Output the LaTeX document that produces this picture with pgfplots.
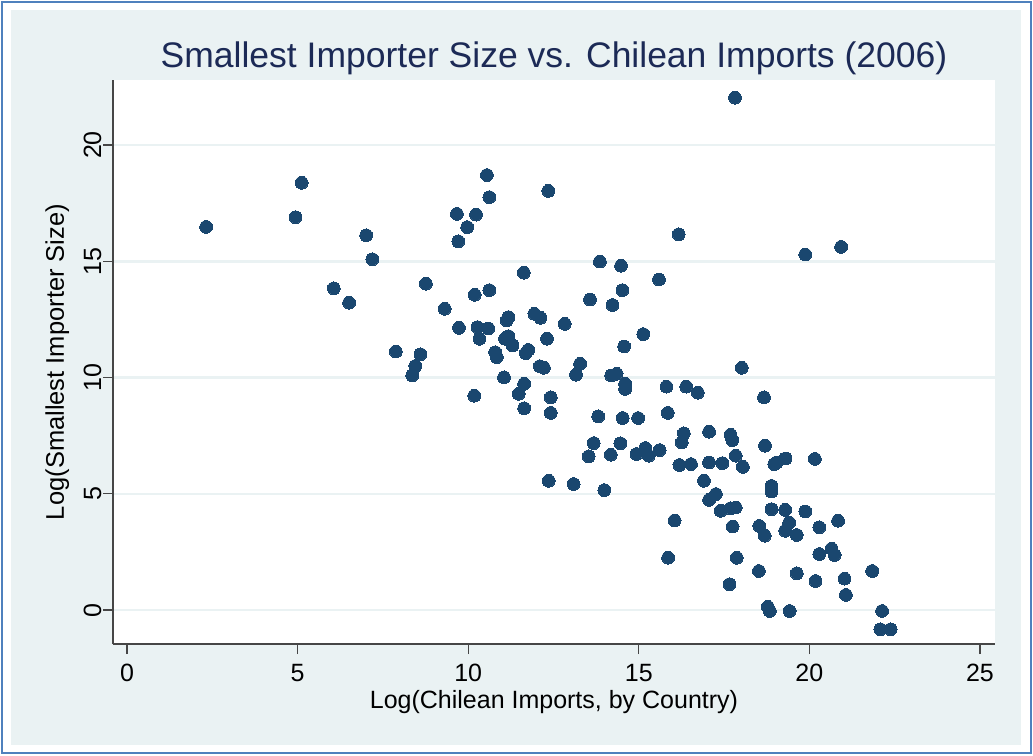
\documentclass[border=0pt]{standalone}
\usepackage{pgfplots}
\pgfplotsset{compat=1.18}
\usepackage{fontspec}
\setmainfont{Liberation Sans}
\definecolor{bgc}{RGB}{234,242,243}
\definecolor{gridc}{RGB}{234,242,243}
\definecolor{markc}{RGB}{26,71,111}
\definecolor{titlec}{RGB}{28,42,86}
\definecolor{framec}{RGB}{79,129,189}
\definecolor{axc}{RGB}{70,70,70}
\begin{document}
\begin{tikzpicture}
\useasboundingbox (0,0) rectangle (1033pt,755pt);
\fill[white] (0,0) rectangle (1033pt,755pt);
\fill[bgc] (11pt,10pt) rectangle (1021pt,745pt);
\draw[framec, line width=2pt] (2pt,2pt) rectangle (1031pt,753pt);
\begin{axis}[
  at={(113pt,111pt)}, anchor=south west,
  scale only axis, width=882pt, height=564pt,
  xmin=-0.41, xmax=25.44, ymin=-1.46, ymax=22.8,
  axis x line*=bottom, axis y line*=left,
  axis line style={-, axc, line width=1.3pt},
  axis background/.style={fill=white},
  xtick={0,5,10,15,20,25}, ytick={0,5,10,15,20},
  tick align=outside, major tick length=10pt,
  tick style={axc, line width=1.2pt},
  ymajorgrids, major grid style={gridc, line width=2.5pt},
  /pgf/number format/assume math mode=true,
  tick label style={font=\fontsize{25}{30}\selectfont},
  xticklabel style={anchor=base, yshift=-27pt},
  yticklabel style={rotate=90, anchor=base, yshift=2pt},
  title={Smallest Importer Size vs. Chilean Imports (2006)},
  every axis title/.style={at={(axis description cs:0.5,1)}, yshift=12pt, anchor=base, font=\fontsize{35.5}{40}\selectfont, text=titlec},
  xlabel={Log(Chilean Imports, by Country)},
  every axis x label/.style={at={(axis description cs:0.5,0)}, yshift=-64pt, anchor=base, font=\fontsize{25}{30}\selectfont},
  ylabel={Log(Smallest Importer Size)},
  every axis y label/.style={at={(axis description cs:0,0.5)}, xshift=-49pt, rotate=90, anchor=base, font=\fontsize{25.5}{30}\selectfont},
]
\addplot[only marks, mark=*, mark size=6.4pt, mark options={draw=markc, fill=markc, line width=0pt}] table {
x y
2.32 16.48
5.12 18.38
4.94 16.90
7.01 16.12
7.19 15.09
6.06 13.84
6.51 13.22
7.88 11.12
8.36 10.09
8.45 10.50
8.60 11.00
8.76 14.04
10.55 18.71
10.62 17.76
12.35 18.03
9.67 17.04
10.23 17.01
9.97 16.47
9.71 15.86
16.17 16.16
13.86 14.99
14.48 14.81
15.59 14.22
11.63 14.51
10.19 13.56
10.62 13.76
13.57 13.36
14.52 13.76
14.23 13.12
9.31 12.96
9.73 12.14
10.27 12.17
10.59 12.11
10.33 11.67
11.18 12.60
11.13 12.46
11.94 12.74
12.12 12.57
12.83 12.31
15.13 11.87
14.57 11.34
11.08 11.67
11.18 11.78
11.30 11.38
12.31 11.67
11.76 11.19
11.69 11.05
10.79 11.09
10.84 10.88
12.10 10.49
12.22 10.42
13.28 10.59
13.16 10.12
11.05 10.01
14.19 10.09
14.35 10.16
17.82 22.04
19.88 15.29
20.93 15.62
18.02 10.42
10.18 9.22
11.64 9.73
11.48 9.30
11.64 8.68
12.42 9.15
12.42 8.48
13.81 8.33
13.68 7.18
13.53 6.61
12.36 5.56
13.09 5.42
13.99 5.16
14.60 9.73
14.60 9.51
15.81 9.61
16.39 9.61
16.73 9.35
18.67 9.15
14.53 8.26
14.98 8.26
15.85 8.48
14.46 7.17
14.18 6.68
14.93 6.71
15.19 6.97
15.29 6.64
15.61 6.88
16.32 7.60
16.26 7.21
16.19 6.24
16.53 6.28
17.06 7.67
17.06 6.35
17.45 6.32
17.69 7.54
17.74 7.31
17.84 6.64
18.05 6.16
18.70 7.07
18.97 6.28
19.04 6.35
19.30 6.52
20.16 6.50
16.91 5.56
17.06 4.74
17.26 4.99
17.40 4.27
17.69 4.38
17.84 4.41
16.05 3.85
17.75 3.59
18.89 5.34
18.89 5.10
18.89 4.34
19.29 4.31
19.88 4.24
20.84 3.84
18.53 3.62
18.69 3.20
19.41 3.76
19.29 3.41
19.63 3.23
20.29 3.56
20.29 2.41
20.65 2.64
20.74 2.37
15.86 2.25
17.87 2.25
18.52 1.68
19.63 1.58
20.18 1.25
21.03 1.35
21.07 0.65
21.84 1.68
17.66 1.11
18.78 0.14
18.84 -0.04
19.42 -0.04
22.13 -0.04
22.08 -0.83
22.38 -0.83
};
\end{axis}
\end{tikzpicture}
\end{document}
